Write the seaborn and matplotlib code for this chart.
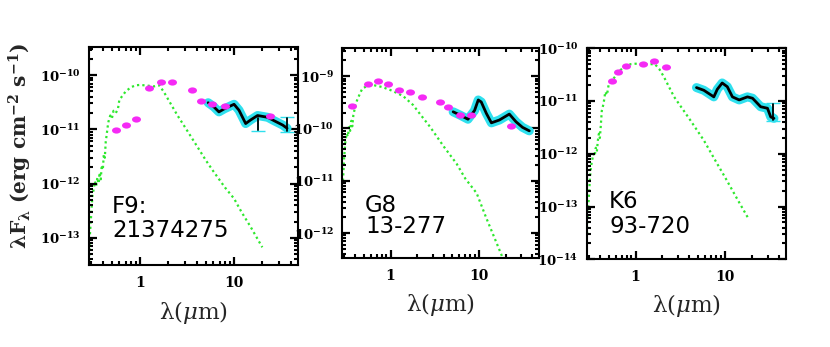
import numpy as np
import pandas as pd
import matplotlib
matplotlib.use("Agg")
import matplotlib.pyplot as plt
from matplotlib.path import Path
from matplotlib.ticker import LogLocator, FuncFormatter, NullFormatter, FixedLocator
import seaborn as sns

# ---------------- data ----------------
panel_labels = [("F9:", "21374275"), ("G8", "13-277"), ("K6", "93-720")]
ylims = [(3.16e-14, 3.3e-10), (3.3e-13, 3.4e-9), (1e-14, 1e-10)]

# photometry (magenta)
phot_wl_1 = [0.55, 0.71, 0.90, 1.23, 1.67, 2.2, 3.58, 4.5, 5.77, 8.0, 24.0]
phot_f_1 = [9.7e-12, 1.2e-11, 1.53e-11, 5.8e-11, 7.5e-11, 7.5e-11, 5.4e-11, 3.3e-11, 2.9e-11, 2.67e-11, 1.8e-11]
phot_wl_2 = [0.366, 0.557, 0.72, 0.93, 1.24, 1.67, 2.26, 3.63, 4.5, 6.1, 8.2, 23.0]
phot_f_2 = [2.67e-10, 7.2e-10, 7.9e-10, 7.0e-10, 5.4e-10, 5.0e-10, 4.0e-10, 3.2e-10, 2.6e-10, 1.8e-10, 1.8e-10, 1.1e-10]
phot_wl_3 = [0.55, 0.64, 0.79, 1.22, 1.62, 2.17]
phot_f_3 = [2.43e-11, 3.5e-11, 4.6e-11, 5.1e-11, 5.8e-11, 4.36e-11]

# stellar photosphere model (green dotted)
model_wl_1 = [0.285, 0.29, 0.30, 0.31, 0.32, 0.33, 0.34, 0.35, 0.36, 0.37, 0.38, 0.39, 0.40, 0.41,
              0.42, 0.43, 0.44, 0.45, 0.46, 0.48, 0.50, 0.52, 0.55, 0.58, 0.60, 0.65, 0.70, 0.80,
              0.90, 1.0, 1.2, 1.4, 1.6, 1.8, 2.0, 2.5, 3.0, 4.0, 5.0, 6.0, 8.0, 10.0, 12.0, 15.0, 20.0]
model_f_1 = [3e-14, 1e-13, 2.5e-13, 6e-13, 8e-13, 1.1e-12, 9e-13, 1.3e-12, 1.0e-12, 1.6e-12, 1.2e-12,
             2.2e-12, 1.8e-12, 3.5e-12, 3e-12, 6e-12, 8e-12, 1.1e-11, 1.4e-11, 1.8e-11, 1.6e-11,
             2.2e-11, 2.0e-11, 2.4e-11, 3.5e-11, 4.2e-11, 5e-11, 6e-11, 6.5e-11, 6.6e-11, 6.4e-11,
             6.2e-11, 6.5e-11, 4.8e-11, 3.5e-11, 1.8e-11, 1.1e-11, 5e-12, 2.7e-12, 1.7e-12, 8.5e-13,
             5.3e-13, 3.0e-13, 1.6e-13, 6.7e-14]
model_wl_2 = [0.29, 0.30, 0.31, 0.32, 0.33, 0.34, 0.35, 0.36, 0.37, 0.38, 0.39, 0.40, 0.42, 0.45,
              0.48, 0.55, 0.65, 0.80, 1.0, 1.2, 1.4, 1.8, 2.2, 2.8, 4.0, 5.6, 7.0, 9.4, 12.0, 15.0,
              18.6, 20.0]
model_f_2 = [1e-11, 3e-11, 6e-11, 8e-11, 7e-11, 1.1e-10, 9e-11, 1.4e-10, 1.1e-10, 1.8e-10, 2.2e-10,
             2.8e-10, 3.5e-10, 4.6e-10, 5.8e-10, 6.5e-10, 6.7e-10, 6.2e-10, 5.4e-10, 4.7e-10, 4.1e-10,
             2.8e-10, 1.8e-10, 1.07e-10, 4.5e-11, 2.1e-11, 1.1e-11, 5.8e-12, 2e-12, 8e-13, 3.3e-13,
             2.4e-13]
model_wl_3 = [0.288, 0.29, 0.30, 0.31, 0.32, 0.33, 0.34, 0.35, 0.36, 0.37, 0.38, 0.39, 0.40, 0.41,
              0.42, 0.44, 0.46, 0.48, 0.50, 0.55, 0.62, 0.68, 0.80, 0.88, 1.0, 1.24, 1.65, 1.85,
              2.07, 2.7, 4.0, 5.8, 8.0, 10.0, 14.0, 18.6]
model_f_3 = [3e-14, 6e-14, 1.33e-13, 3.5e-13, 6e-13, 8e-13, 1.0e-12, 9e-13, 1.3e-12, 1.1e-12, 1.8e-12,
             2.4e-12, 2.0e-12, 3.5e-12, 6.5e-12, 9e-12, 1.5e-11, 1.3e-11, 2.0e-11, 2.5e-11, 3.2e-11,
             3.9e-11, 4.6e-11, 5e-11, 5.1e-11, 5.0e-11, 5.0e-11, 4.0e-11, 2.9e-11, 1.2e-11, 4.6e-12,
             1.8e-12, 6.9e-13, 3.6e-13, 1.3e-13, 5.6e-14]

# IRS spectrum (black line on cyan band)
irs_wl_1 = [5.3, 6.1, 6.9, 7.9, 10.0, 11.3, 13.3, 15.0, 17.8, 22.8, 26.8, 33.0, 36.7]
irs_f_1 = [3.1e-11, 2.6e-11, 2.1e-11, 2.4e-11, 2.9e-11, 2.25e-11, 1.28e-11, 1.49e-11, 1.8e-11,
           1.67e-11, 1.44e-11, 1.2e-11, 1.05e-11]
irs_wl_2 = [5.1, 6.1, 7.5, 8.9, 9.8, 10.6, 12.1, 13.8, 17.0, 22.0, 26.2, 31.0, 37.0]
irs_f_2 = [2.08e-10, 1.8e-10, 1.5e-10, 2.2e-10, 3.5e-10, 3.2e-10, 1.94e-10, 1.28e-10, 1.45e-10,
           1.88e-10, 1.34e-10, 1.05e-10, 9e-11]
irs_wl_3 = [4.8, 5.8, 7.5, 8.2, 9.3, 10.6, 12.1, 14.4, 17.8, 20.3, 25.0, 29.8, 32.4, 35.2]
irs_f_3 = [1.8e-11, 1.6e-11, 1.2e-11, 1.67e-11, 2.2e-11, 1.87e-11, 1.2e-11, 1.05e-11, 1.2e-11,
           1.13e-11, 7.8e-12, 7.3e-12, 5e-12, 4.7e-12]

# error bars on the spectra (x, y, lower, upper)
err_1 = [(17.8, 1.3e-11, 9.2e-12, 1.7e-11), (36.5, 1.2e-11, 8.8e-12, 1.7e-11)]
err_2 = []
err_3 = [(34.5, 6.0e-12, 4.1e-12, 9.0e-12)]

xticks = [1, 10]
xtick_labels = ["1", "10"]

# ---------------- style ----------------
sns.set_theme(style="ticks")
plt.rcParams["font.family"] = ["DejaVu Sans"]
plt.rcParams["mathtext.fontset"] = "dejavusans"
plt.rcParams.update({
    "axes.axisbelow": False,
    "xtick.color": "black", "ytick.color": "black",
    "xtick.direction": "in", "ytick.direction": "in",
    "xtick.top": True, "ytick.right": True,
})

MAGENTA = "#f52af5"
GREEN = "#2ee82e"
CYAN = "#2fe0ee"

ell = Path(Path.unit_circle().vertices * np.array([1.45, 1.0]), Path.unit_circle().codes)

fig = plt.figure(figsize=(8.3, 3.47), dpi=100)
W, H = 830.0, 347.0
boxes = [(89, 47, 298, 265), (342.3, 48.3, 539.3, 258.3), (586.7, 48.3, 786, 259.3)]
text_y = [(0.2385, 0.128), (0.22, 0.12), (0.243, 0.125)]
text_x = [0.11, 0.115, 0.113]

phots = [(phot_wl_1, phot_f_1), (phot_wl_2, phot_f_2), (phot_wl_3, phot_f_3)]
models = [(model_wl_1, model_f_1), (model_wl_2, model_f_2), (model_wl_3, model_f_3)]
irss = [(irs_wl_1, irs_f_1), (irs_wl_2, irs_f_2), (irs_wl_3, irs_f_3)]
errs = [err_1, err_2, err_3]


def ytick_fmt(v, pos):
    e = int(np.round(np.log10(v)))
    return r"$\mathbf{10^{%d}}$" % e


def xtick_fmt(v, pos):
    k = int(round(v))
    return xtick_labels[xticks.index(k)] if k in xticks else ""


axes = []
for i, (x0, y0, x1, y1) in enumerate(boxes):
    ax = fig.add_axes([x0 / W, 1 - y1 / H, (x1 - x0) / W, (y1 - y0) / H])
    axes.append(ax)
    ax.set_xscale("log")
    ax.set_yscale("log")

    mdf = pd.DataFrame({"wl": models[i][0], "f": models[i][1]})
    sns.lineplot(data=mdf, x="wl", y="f", ax=ax, color=GREEN, linestyle=(0, (1, 1.4)),
                 linewidth=1.6, sort=False, estimator=None, zorder=2)

    idf = pd.DataFrame({"wl": irss[i][0], "f": irss[i][1]})
    sns.lineplot(data=idf, x="wl", y="f", ax=ax, color=CYAN, linewidth=6.5, sort=False,
                 estimator=None, zorder=3, solid_capstyle="round", solid_joinstyle="round")
    for (ex, ey, lo, hi) in errs[i]:
        ax.errorbar([ex], [ey], yerr=[[ey - lo], [hi - ey]], fmt="none", ecolor=CYAN,
                    elinewidth=1.2, capsize=5, zorder=3.5)
        ax.plot([ex, ex], [lo * 1.05, hi * 0.97], color="black", lw=1.3, zorder=4.5)
    sns.lineplot(data=idf, x="wl", y="f", ax=ax, color="black", linewidth=2.0, sort=False,
                 estimator=None, zorder=4)

    pdf = pd.DataFrame({"wl": phots[i][0], "f": phots[i][1]})
    sns.scatterplot(data=pdf, x="wl", y="f", ax=ax, color=MAGENTA, marker=ell, s=42,
                    linewidth=0, zorder=5)

    ax.set_xlim(0.285, 48)
    lo_y, hi_y = ylims[i]
    ax.set_ylim(lo_y, hi_y)
    ax.xaxis.set_major_locator(FixedLocator(xticks))
    ax.xaxis.set_major_formatter(FuncFormatter(xtick_fmt))
    ax.xaxis.set_minor_locator(LogLocator(base=10, subs=np.arange(2, 10), numticks=50))
    ax.xaxis.set_minor_formatter(NullFormatter())
    e0 = int(np.ceil(np.log10(lo_y) - 1e-9))
    e1 = int(np.floor(np.log10(hi_y) + 1e-9))
    ax.yaxis.set_major_locator(FixedLocator([10.0 ** e for e in range(e0, e1 + 1)]))
    ax.yaxis.set_minor_locator(LogLocator(base=10, subs=np.arange(2, 10), numticks=50))
    ax.yaxis.set_major_formatter(FuncFormatter(ytick_fmt))
    ax.yaxis.set_minor_formatter(NullFormatter())
    ax.tick_params(which="both", direction="in", top=True, right=True, bottom=True, left=True,
                   color="black")
    ax.tick_params(which="major", length=6.0, width=1.6)
    ax.tick_params(which="minor", length=3.0, width=1.5)
    ax.tick_params(axis="y", which="major", pad=6, labelsize=9.5)
    ax.tick_params(axis="x", which="major", pad=8, labelsize=10)
    for lab in ax.get_xticklabels():
        lab.set_fontfamily("DejaVu Serif")
        lab.set_fontweight("bold")
    for lab in ax.get_yticklabels():
        lab.set_math_fontfamily("dejavuserif")
    for sp in ax.spines.values():
        sp.set_linewidth(1.5)
        sp.set_color("black")
        sp.set_zorder(6)

    ax.set_xlabel("λ(" + r"$\mu$" + "m)", fontsize=16.5, fontfamily="DejaVu Serif")
    ax.xaxis.label.set_math_fontfamily("dejavuserif")
    ax.xaxis.set_label_coords(0.5, -0.155)
    ax.xaxis.label.set_va("top")
    ax.set_ylabel("")

    l1, l2 = panel_labels[i]
    ax.text(text_x[i], text_y[i][0], l1, transform=ax.transAxes, fontsize=16.5,
            ha="left", va="baseline", color="black")
    ax.text(text_x[i], text_y[i][1], l2, transform=ax.transAxes, fontsize=16.5,
            ha="left", va="baseline", color="black")

axes[0].set_ylabel(r"$\mathbf{\lambda F_\lambda}$ (erg cm$^{\mathbf{-2}}$ s$^{\mathbf{-1}}$)",
                   fontsize=14.5, fontfamily="DejaVu Serif", fontweight="bold",
                   ha="center", va="center")
axes[0].yaxis.label.set_math_fontfamily("dejavuserif")
axes[0].yaxis.set_label_coords(-0.33, 0.546)

fig.savefig("out.png", dpi=100, facecolor="white")
